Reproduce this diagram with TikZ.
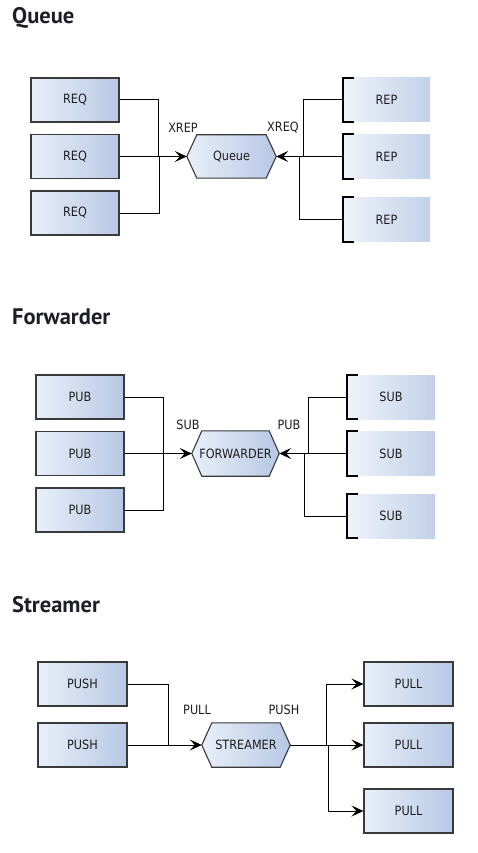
\documentclass[tikz,border=0pt]{standalone}
\usepackage{fontspec}
\newfontfamily\titlefont{PT Sans}
\newfontfamily\lblfont[FakeStretch=0.88]{DejaVu Sans}
\usetikzlibrary{arrows.meta,backgrounds}
\definecolor{boxL}{RGB}{233,239,249}
\definecolor{boxR}{RGB}{183,200,229}
\definecolor{edge}{RGB}{58,58,58}
\definecolor{txt}{RGB}{30,30,30}
\definecolor{ttl}{RGB}{30,30,40}
\tikzset{
  lblf/.style={font=\lblfont\fontsize{12.8}{15}\selectfont, text=txt},
  sock/.style={lblf, draw=edge, line width=1.1pt, left color=boxL, right color=boxR,
    minimum width=88pt, minimum height=44pt, inner sep=0pt},
  brk/.style={lblf, draw=none, left color=boxL!70!white, right color=boxR!85!white,
    minimum width=87pt, minimum height=44pt, inner sep=0pt},
  devnode/.style={lblf, minimum height=43pt, inner sep=0pt},
  lbl/.style={lblf, inner sep=0pt},
  ttlnode/.style={anchor=base west, inner sep=0pt, font=\titlefont\bfseries\fontsize{22.5}{26}\selectfont, text=ttl},
  wire/.style={line width=1pt, black},
  arr/.style={wire, -{Stealth[length=12pt,width=11pt,inset=5pt]}},
  bracket/.style={line width=1.8pt, black, line join=miter}
}
\newcommand\hexshape[1]{%
  \begin{scope}[on background layer]
    \shadedraw[draw=edge, line width=1.1pt, left color=boxL, right color=boxR]
      (#1.west) -- ([xshift=10pt]#1.north west) -- ([xshift=-10pt]#1.north east)
      -- (#1.east) -- ([xshift=-10pt]#1.south east) -- ([xshift=10pt]#1.south west) -- cycle;
  \end{scope}}
\newcommand\brkt[1]{\draw[bracket] ([xshift=11pt]#1.north west) -- (#1.north west)
  -- (#1.south west) -- ([xshift=11pt]#1.south west);}
\begin{document}
\begin{tikzpicture}[x=1pt,y=-1pt]
\begin{scope}[on background layer]
  \fill[white] (0,0) rectangle (477,853);
\end{scope}
\useasboundingbox (0,0) rectangle (477,853);

% ---------------- Queue ----------------
\node[ttlnode] (t1) at (12,24) {Queue};
\node[sock] (req1) at (75,100) {REQ};
\node[sock] (req2) at (75,156.5) {REQ};
\node[sock] (req3) at (75,213) {REQ};
\node[devnode, minimum width=89pt] (q) at (231.5,156.5) {Queue};
\hexshape{q}
\node[brk] (rep1) at (386.5,100) {REP};
\node[brk] (rep2) at (386.5,156.5) {REP};
\node[brk] (rep3) at (386.5,219.5) {REP};
\brkt{rep1}\brkt{rep2}\brkt{rep3}
\node[lbl] (lxrep) at (183,128) {XREP};
\node[lbl] (lxreq) at (283,128) {XREQ};
\coordinate (jqa) at (158,156.5);
\coordinate (jqb) at (159,156.5);
\coordinate (jqc) at (303,156.5);
\coordinate (jqd) at (299,156.5);
\draw[wire] (req1.east) -| (jqa);
\draw[wire] (req3.east) -| (jqb);
\draw[arr] (req2.east) -- (q.west);
\draw[wire] (rep1.west) -| (jqc);
\draw[wire] (rep3.west) -| (jqd);
\draw[arr] (rep2.west) -- (q.east);

% ---------------- Forwarder ----------------
\node[ttlnode] (t2) at (12,324) {Forwarder};
\node[sock] (pub1) at (80,397) {PUB};
\node[sock] (pub2) at (80,453.5) {PUB};
\node[sock] (pub3) at (80,510) {PUB};
\node[devnode, minimum width=87pt, minimum height=45pt] (f) at (235.5,453.5) {FORWARDER};
\hexshape{f}
\node[brk, minimum width=88pt] (sub1) at (391,397) {SUB};
\node[brk, minimum width=88pt] (sub2) at (391,453.5) {SUB};
\node[brk, minimum width=88pt] (sub3) at (391,516) {SUB};
\brkt{sub1}\brkt{sub2}\brkt{sub3}
\node[lbl] (lsub) at (188,425) {SUB};
\node[lbl] (lpub) at (289,425) {PUB};
\coordinate (jfa) at (163,453.5);
\coordinate (jfc) at (308,453.5);
\coordinate (jfd) at (304,453.5);
\draw[wire] (pub1.east) -| (jfa);
\draw[wire] (pub3.east) -| (jfa);
\draw[arr] (pub2.east) -- (f.west);
\draw[wire] (sub1.west) -| (jfc);
\draw[wire] (sub3.west) -| (jfd);
\draw[arr] (sub2.west) -- (f.east);

% ---------------- Streamer ----------------
\node[ttlnode] (t3) at (12,612) {Streamer};
\node[sock, minimum width=89pt] (push1) at (82.5,684) {PUSH};
\node[sock, minimum width=89pt] (push2) at (82.5,745) {PUSH};
\node[devnode, minimum width=88pt, minimum height=44pt] (s) at (246,745) {STREAMER};
\hexshape{s}
\node[sock, minimum width=89pt] (pull1) at (408.5,684) {PULL};
\node[sock, minimum width=89pt] (pull2) at (408.5,745) {PULL};
\node[sock, minimum width=89pt] (pull3) at (408.5,811) {PULL};
\node[lbl] (lpull) at (197,710) {PULL};
\node[lbl] (lpush) at (284,710) {PUSH};
\coordinate (jsa) at (168,745);
\coordinate (jsb) at (326,745);
\coordinate (jsc) at (328,745);
\draw[wire] (push1.east) -| (jsa);
\draw[arr] (push2.east) -- (s.west);
\draw[arr] (s.east) -- (pull2.west);
\draw[arr] (jsb) |- (pull1.west);
\draw[arr] (jsc) |- (pull3.west);
\end{tikzpicture}
\end{document}
